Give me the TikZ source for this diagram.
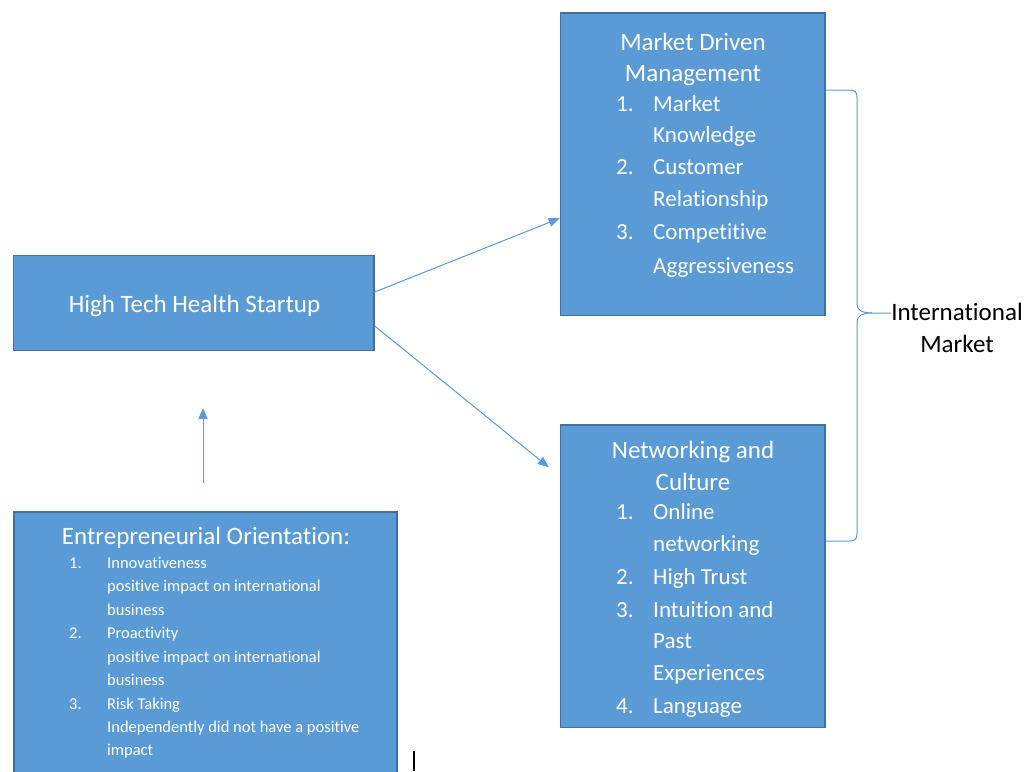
\documentclass[tikz,border=0pt]{standalone}
\usepackage{fontspec}
\setmainfont{Carlito}[Ligatures=NoCommon]
\usetikzlibrary{arrows.meta}
\definecolor{boxfill}{HTML}{5B9BD5}
\definecolor{boxline}{HTML}{41719C}
\tikzset{
  box/.style={draw=boxline, fill=boxfill, line width=1.5pt, inner sep=0pt},
  big/.style={font=\fontsize{25}{30}\selectfont, text=white, inner sep=0pt},
  item/.style={font=\fontsize{23}{28}\selectfont, text=white, inner sep=0pt},
  small/.style={font=\fontsize{16.5}{20}\selectfont, text=white, inner sep=0pt},
  blk/.style={font=\fontsize{25}{30}\selectfont, text=black, inner sep=0pt},
  conn/.style={draw=boxfill, line width=1pt, -{Triangle[length=11pt,width=9pt]}},
  bracel/.style={draw=boxfill, line width=1pt}
}
\begin{document}
\begin{tikzpicture}[x=1pt,y=-1pt]
\useasboundingbox (0,0) rectangle (1032,771);
% boxes
\node[box, minimum width=264.5pt, minimum height=302.5pt] (mdm) at (692.75,164.25) {};
\node[box, minimum width=264.5pt, minimum height=302.5pt] (nc) at (692.75,576.25) {};
\node[box, minimum width=360.5pt, minimum height=95pt] (hths) at (193.75,303) {};
\node[box, minimum width=383pt, minimum height=288pt] (eo) at (205.5,656) {};
% HTHS text
\node[big, anchor=base] (hthst) at (194.5,312) {High Tech Health Startup};
% MDM text
\node[big, anchor=base] (m1) at (693,50) {Market Driven};
\node[big, anchor=base] (m2) at (693,81) {Management};
\node[item, anchor=base west] (mn1) at (616,111) {1.};
\node[item, anchor=base west] (mi1) at (653,111) {Market};
\node[item, anchor=base west] (mi1b) at (653,142) {Knowledge};
\node[item, anchor=base west] (mn2) at (616,174) {2.};
\node[item, anchor=base west] (mi2) at (653,174) {Customer};
\node[item, anchor=base west] (mi2b) at (653,206) {Relationship};
\node[item, anchor=base west] (mn3) at (616,239) {3.};
\node[item, anchor=base west] (mi3) at (653,239) {Competitive};
\node[item, anchor=base west] (mi3b) at (653,273) {Aggressiveness};
% NC text
\node[big, anchor=base] (n1) at (693,458) {Networking and};
\node[big, anchor=base] (n2) at (693,490) {Culture};
\node[item, anchor=base west] (nn1) at (616,519) {1.};
\node[item, anchor=base west] (ni1) at (653,519) {Online};
\node[item, anchor=base west] (ni1b) at (653,551) {networking};
\node[item, anchor=base west] (nn2) at (616,584) {2.};
\node[item, anchor=base west] (ni2) at (653,584) {High Trust};
\node[item, anchor=base west] (nn3) at (616,617) {3.};
\node[item, anchor=base west] (ni3) at (653,617) {Intuition and};
\node[item, anchor=base west] (ni3b) at (653,648) {Past};
\node[item, anchor=base west] (ni3c) at (653,680) {Experiences};
\node[item, anchor=base west] (nn4) at (616,713) {4.};
\node[item, anchor=base west] (ni4) at (653,713) {Language};
% EO text
\node[big, anchor=base] (e0) at (206,544) {Entrepreneurial Orientation:};
\node[small, anchor=base west] (en1) at (69,568) {1.};
\node[small, anchor=base west] (ei1) at (107,568) {Innovativeness};
\node[small, anchor=base west] (ei1b) at (107,591) {positive impact on international};
\node[small, anchor=base west] (ei1c) at (107,615) {business};
\node[small, anchor=base west] (en2) at (69,638) {2.};
\node[small, anchor=base west] (ei2) at (107,638) {Proactivity};
\node[small, anchor=base west] (ei2b) at (107,662) {positive impact on international};
\node[small, anchor=base west] (ei2c) at (107,685) {business};
\node[small, anchor=base west] (en3) at (69,709) {3.};
\node[small, anchor=base west] (ei3) at (107,709) {Risk Taking};
\node[small, anchor=base west] (ei3b) at (107,732) {Independently did not have a positive};
\node[small, anchor=base west] (ei3c) at (107,755) {impact};
% International Market
\node[blk, anchor=base] (im1) at (957,320) {International};
\node[blk, anchor=base] (im2) at (957,352) {Market};
% arrows
\draw[conn] ([yshift=11pt]hths.east) -- ([yshift=-54pt]mdm.west);
\draw[conn] ([yshift=-23pt]hths.east) -- ([xshift=-11pt,yshift=109pt]nc.west);
\coordinate (vs) at (203,483);
\coordinate (ve) at (203,408);
\draw[conn] (vs) -- (ve);
% brace
\coordinate (bt) at (825.5,90);
\coordinate (bb) at (825.5,541);
\draw[bracel] (bt) -- (849,90) .. controls (855,90) and (857,92) .. (857,97)
  -- (857,304) .. controls (857,310) and (862,313) .. (872,313) -- (im1.west |- 0,313);
\draw[bracel] (bb) -- (849,541) .. controls (855,541) and (857,539) .. (857,534)
  -- (857,322) .. controls (857,316) and (862,313) .. (872,313);
% cursor mark
\coordinate (ct) at (414,751);
\coordinate (cb) at (414,771);
\draw[black, line width=1.3pt] (ct) -- (cb);
\end{tikzpicture}
\end{document}
